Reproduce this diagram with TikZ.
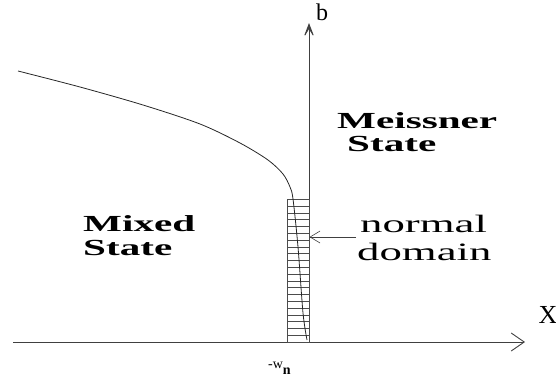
\documentclass[tikz,border=0pt]{standalone}
\usepackage{fontspec}
\setmainfont{Liberation Serif}
\newfontfamily\statefont[FakeStretch=1.79]{Liberation Serif}
\usetikzlibrary{arrows.meta}

\begin{document}
\begin{tikzpicture}[x=1pt,y=-1pt,
  axis/.style={draw=black!75,line width=0.9pt},
  phase/.style={font=\statefont\bfseries\fontsize{23}{23}\selectfont,
                anchor=base west,inner sep=0pt},
  dlabel/.style={font=\statefont\fontsize{25}{25}\selectfont,
                 anchor=base west,inner sep=0pt},
  hatch/.style={draw=black!70,line width=0.5pt},
  curve/.style={draw=black!85,line width=0.8pt}
]
\useasboundingbox (0,0) rectangle (556,383);
% axes
\coordinate (O) at (309,342);
\coordinate (xs) at (13,342);
\coordinate (xe) at (525,342);
\coordinate (yt) at (309,23);
\draw[axis,-{Straight Barb[length=13pt,width=18pt]}] (xs) -- (xe);
\draw[axis,-{Stealth[length=17pt,width=13pt,inset=11pt]}] (O) -- (yt);
\node[font=\fontsize{24}{24}\selectfont,inner sep=0pt] (b) at (322,12) {b};
\node[font=\fontsize{26}{26}\selectfont,inner sep=0pt] (X) at (548,315) {X};
% normal domain strip
\node[hatch,draw,anchor=south west,minimum width=22pt,minimum height=143pt,
      inner sep=0pt] (dom) at (287,342) {};
\foreach \i in {1,...,20}
  \draw[hatch] (dom.south west) ++(0,-\i*6.8) -- ++(22,0);
\node[inner sep=0pt,anchor=base west] (wn) at (268,368)
  {\fontsize{14}{14}\selectfont -w\raisebox{-6pt}{\bfseries n}};
% phase boundary
\draw[curve] plot[smooth] coordinates {(18,71) (80,87) (143,105) (200,124)
  (240,143) (268,160) (283,174) (290,187) (293,199) (298,247) (303,313) (307,340)};
% labels
\node[phase] (meis) at (337,128) {Meissner};
\node[phase] (meisst) at (347,151) {State};
\node[phase] (mix) at (83,231) {Mixed};
\node[phase] (mixst) at (83,255) {State};
\node[dlabel] (nrm) at (360,232) {normal};
\node[dlabel] (dmn) at (357,260) {domain};
\coordinate (tail) at (356,237);
\draw[draw=black!75,line width=0.6pt,-{Straight Barb[length=10pt,width=12pt]}]
  (tail) -- (dom.east |- tail);
\end{tikzpicture}
\end{document}
